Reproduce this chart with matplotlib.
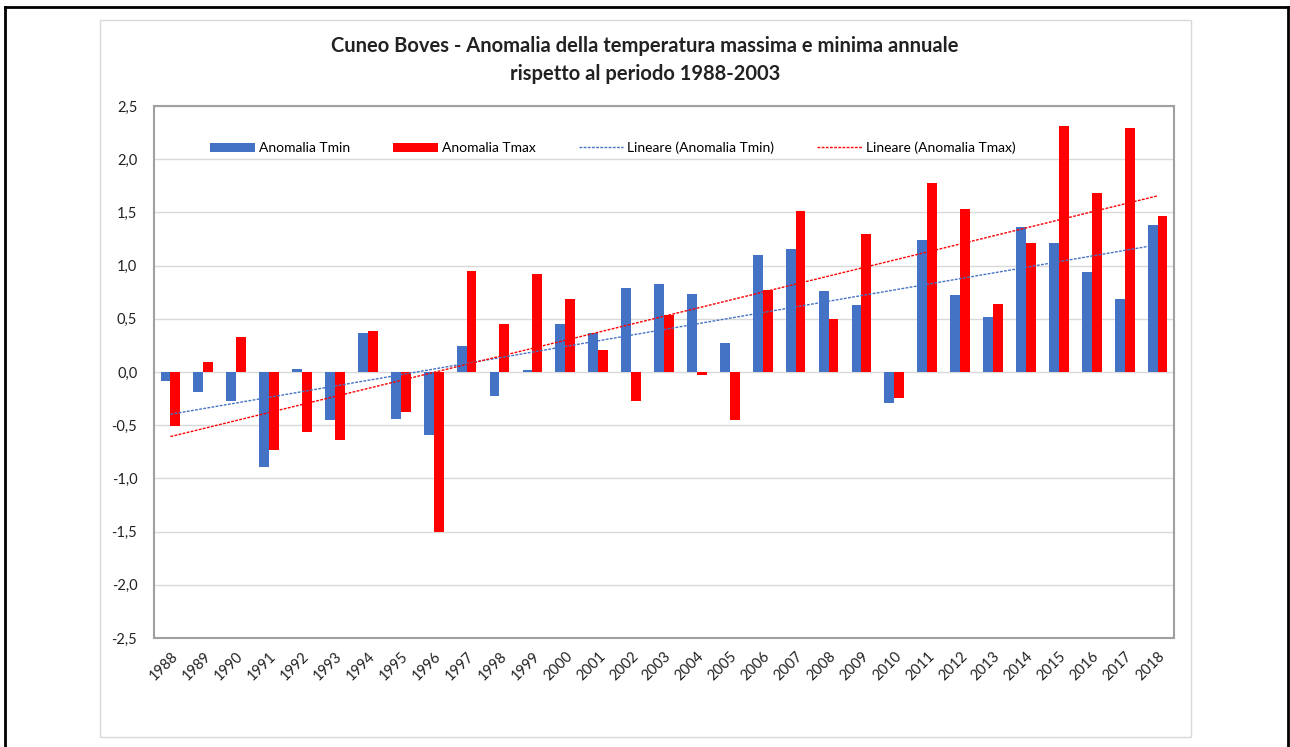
import numpy as np
import matplotlib
matplotlib.use("Agg")
import matplotlib.pyplot as plt
from matplotlib.patches import Rectangle
from matplotlib.lines import Line2D
from matplotlib.ticker import FuncFormatter, MultipleLocator

plt.rcParams['font.family'] = ['Lato', 'DejaVu Sans']

# anni e anomalie
years = [str(y) for y in range(1988, 2019)]
tmin = [-0.08, -0.19, -0.27, -0.89, 0.03, -0.45, 0.37, -0.44, -0.59, 0.24,
        -0.23, 0.02, 0.45, 0.37, 0.79, 0.83, 0.73, 0.27, 1.10, 1.16,
        0.76, 0.63, -0.29, 1.24, 0.72, 0.52, 1.36, 1.21, 0.94, 0.69, 1.38]
tmax = [-0.51, 0.09, 0.33, -0.73, -0.56, -0.64, 0.39, -0.38, -1.50, 0.95,
        0.45, 0.92, 0.69, 0.21, -0.27, 0.54, -0.03, -0.45, 0.77, 1.51,
        0.50, 1.30, -0.24, 1.78, 1.53, 0.64, 1.21, 2.31, 1.68, 2.29, 1.47]

title = "Cuneo Boves - Anomalia della temperatura massima e minima annuale\nrispetto al periodo 1988-2003"
blue = '#4472C4'
red = '#FF0000'

W, H = 1290, 747
fig = plt.figure(figsize=(W / 100, H / 100), dpi=100)

# posizione area del grafico (in pixel)
l, r, t, b = 154, 1174, 106, 638
ax = fig.add_axes([l / W, 1 - b / H, (r - l) / W, (b - t) / H])

x = np.arange(len(years))
bw = 0.3
b1 = ax.bar(x - bw / 2, tmin, bw, color=blue, label='Anomalia Tmin', zorder=3)
b2 = ax.bar(x + bw / 2, tmax, bw, color=red, label='Anomalia Tmax', zorder=3)

# linee di tendenza (regressione lineare)
c1 = np.polyfit(x, tmin, 1)
c2 = np.polyfit(x, tmax, 1)
l1, = ax.plot(x, np.polyval(c1, x), color=blue, lw=1, ls=(0, (2, 1)),
              label='Lineare (Anomalia Tmin)', zorder=4)
l2, = ax.plot(x, np.polyval(c2, x), color=red, lw=1, ls=(0, (2, 1)),
              label='Lineare (Anomalia Tmax)', zorder=4)

ax.set_xlim(-0.5, len(years) - 0.5)
ax.set_ylim(-2.5, 2.5)
ax.yaxis.set_major_locator(MultipleLocator(0.5))
ax.yaxis.set_major_formatter(FuncFormatter(lambda v, p: f"{v:.1f}".replace('.', ',')))
ax.grid(axis='y', color='#D9D9D9', lw=1, zorder=0)
ax.tick_params(length=0, labelsize=10.5, colors='#222222')
ax.tick_params(axis='y', pad=12)
ax.tick_params(axis='x', pad=8)
ax.set_xticks(x)
ax.set_xticklabels(years, rotation=45, ha='right', rotation_mode='anchor', fontsize=10.5)
for s in ax.spines.values():
    s.set_color('#A0A0A0')
    s.set_linewidth(1.5)

ax.legend([b1, b2, l1, l2], [h.get_label() for h in (b1, b2, l1, l2)],
          ncol=4, loc='center', bbox_to_anchor=(613 / W, 1 - 148 / H),
          bbox_transform=fig.transFigure, frameon=False, fontsize=10,
          handlelength=3.2, handletextpad=0.3, columnspacing=3.1)

fig.text(0.5, 1 - 60 / H, title, ha='center', va='center', fontsize=14.5,
         fontweight='bold', linespacing=1.5, color='#222222')

# bordo grigio del grafico e cornice nera
fig.add_artist(Rectangle((100 / W, 1 - 737 / H), 1091 / W, 717 / H,
                         transform=fig.transFigure, fill=False, ec='#D9D9D9', lw=1))
fig.add_artist(Line2D([4.5 / W, 4.5 / W], [0, 1 - 6.5 / H], transform=fig.transFigure, color='k', lw=2))
fig.add_artist(Line2D([4.5 / W, 1288 / W], [1 - 6.5 / H, 1 - 6.5 / H], transform=fig.transFigure, color='k', lw=2))
fig.add_artist(Line2D([1288 / W, 1288 / W], [0, 1 - 6.5 / H], transform=fig.transFigure, color='k', lw=2))

fig.savefig('out.png', dpi=100)
